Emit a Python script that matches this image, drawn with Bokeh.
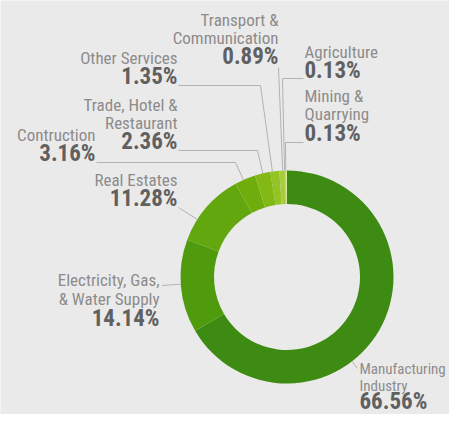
import math
from bokeh.plotting import figure
from bokeh.models import Range1d
from bokeh.core.properties import value
from bokeh.embed import file_html
from bokeh.resources import INLINE

# ---- data ----
sectors = ["Manufacturing Industry", "Electricity, Gas, & Water Supply", "Real Estates",
           "Contruction", "Trade, Hotel & Restaurant", "Other Services",
           "Transport & Communication", "Agriculture", "Mining & Quarrying"]
shares = [66.56, 14.14, 11.28, 3.16, 2.36, 1.35, 0.89, 0.13, 0.13]
label_lines = [["Manufacturing", "Industry"], ["Electricity, Gas,", "& Water Supply"],
               ["Real Estates"], ["Contruction"], ["Trade, Hotel &", "Restaurant"],
               ["Other Services"], ["Transport &", "Communication"], ["Agriculture"],
               ["Mining &", "Quarrying"]]
colors = ["#3d8b12", "#4f9b0d", "#62a70e", "#6ead0c", "#82b915", "#93c324",
          "#a6cd3e", "#bcdb68", "#cfe58a"]

# ---- layout (pixel coords, origin top-left) ----
W, H = 449, 414
CX, CY = 286.5, 276.5
R_OUT, R_IN = 106.5, 73.0
FONT = "Roboto Condensed"
LBL_SIZE, PCT_SIZE = 17, 23
SHIFT = 0.38  # baseline correction, in em
# anchor x, pct baseline y, align, label-end point, elbow point, line step, pct gap, label size
layout = [
    (359, 410, "left",  (357, 368), (357, 368), 17, 19, 15),
    (159, 326.7, "right", (161.5, 285), (161.5, 285), 19, 21.5, LBL_SIZE),
    (177, 206.7, "right", (178, 207), (178, 207), 18.5, 21, LBL_SIZE),
    (95, 161.7, "right", (96, 162), (235, 162), 18.5, 21, LBL_SIZE),
    (177, 150, "right", (178, 150), (257, 150), 18.5, 21, LBL_SIZE),
    (177, 85, "right", (178, 85), (260, 85), 18.5, 21, LBL_SIZE),
    (278, 65, "right", (278, 67), (278, 67), 18, 21, LBL_SIZE),
    (304, 79, "left", (303, 78), (282, 78), 18.5, 21, LBL_SIZE),
    (304, 141.7, "left", (303, 142), (285, 142), 18.3, 21.5, LBL_SIZE),
]

def Y(py):
    return H - py

p = figure(width=W, height=H, x_range=Range1d(0, W), y_range=Range1d(0, H),
           output_backend="svg", toolbar_location=None, x_axis_location=None,
           y_axis_location=None, min_border=0)
p.grid.visible = False
p.outline_line_color = None
p.background_fill_color = "#ebeaea"
p.border_fill_color = "#ebeaea"

total = sum(shares)
starts, ends = [], []
cum = 0.0
for s in shares:
    starts.append(math.pi / 2 - 2 * math.pi * cum / total)
    cum += s
    ends.append(math.pi / 2 - 2 * math.pi * cum / total)

p.annular_wedge(x=[CX] * len(shares), y=[Y(CY)] * len(shares), inner_radius=R_IN,
                outer_radius=R_OUT, start_angle=starts, end_angle=ends, direction="clock",
                color=colors, line_color=None)

# leader lines
xs, ys = [], []
for (ax, py, al, lend, elb, step, gap, fs) in layout:
    dx, dy = elb[0] - CX, elb[1] - CY
    d = math.hypot(dx, dy)
    rx, ry = CX + R_OUT * dx / d, CY + R_OUT * dy / d
    xs.append([lend[0], elb[0], rx])
    ys.append([Y(lend[1]), Y(elb[1]), Y(ry)])
p.multi_line(xs=xs, ys=ys, line_color="#b3b3b3", line_width=1)

# texts
for (ax, py, al, lend, elb, step, gap, fs), lines, s in zip(layout, label_lines, shares):
    n = len(lines)
    for i, t in enumerate(lines):
        by = py - gap - step * (n - 1 - i) - SHIFT * fs
        p.text(x=[ax], y=[Y(by)], text=[t], text_align=al, text_baseline="alphabetic",
               text_font=value(FONT), text_font_size="%dpx" % fs, text_color="#8c8c8c")
    p.text(x=[ax], y=[Y(py - SHIFT * PCT_SIZE)], text=["%.2f%%" % s], text_align=al,
           text_baseline="alphabetic", text_font=value(FONT),
           text_font_size="%dpx" % PCT_SIZE, text_font_style="bold", text_color="#606060")

open("out.html", "w").write(file_html(p, INLINE))
